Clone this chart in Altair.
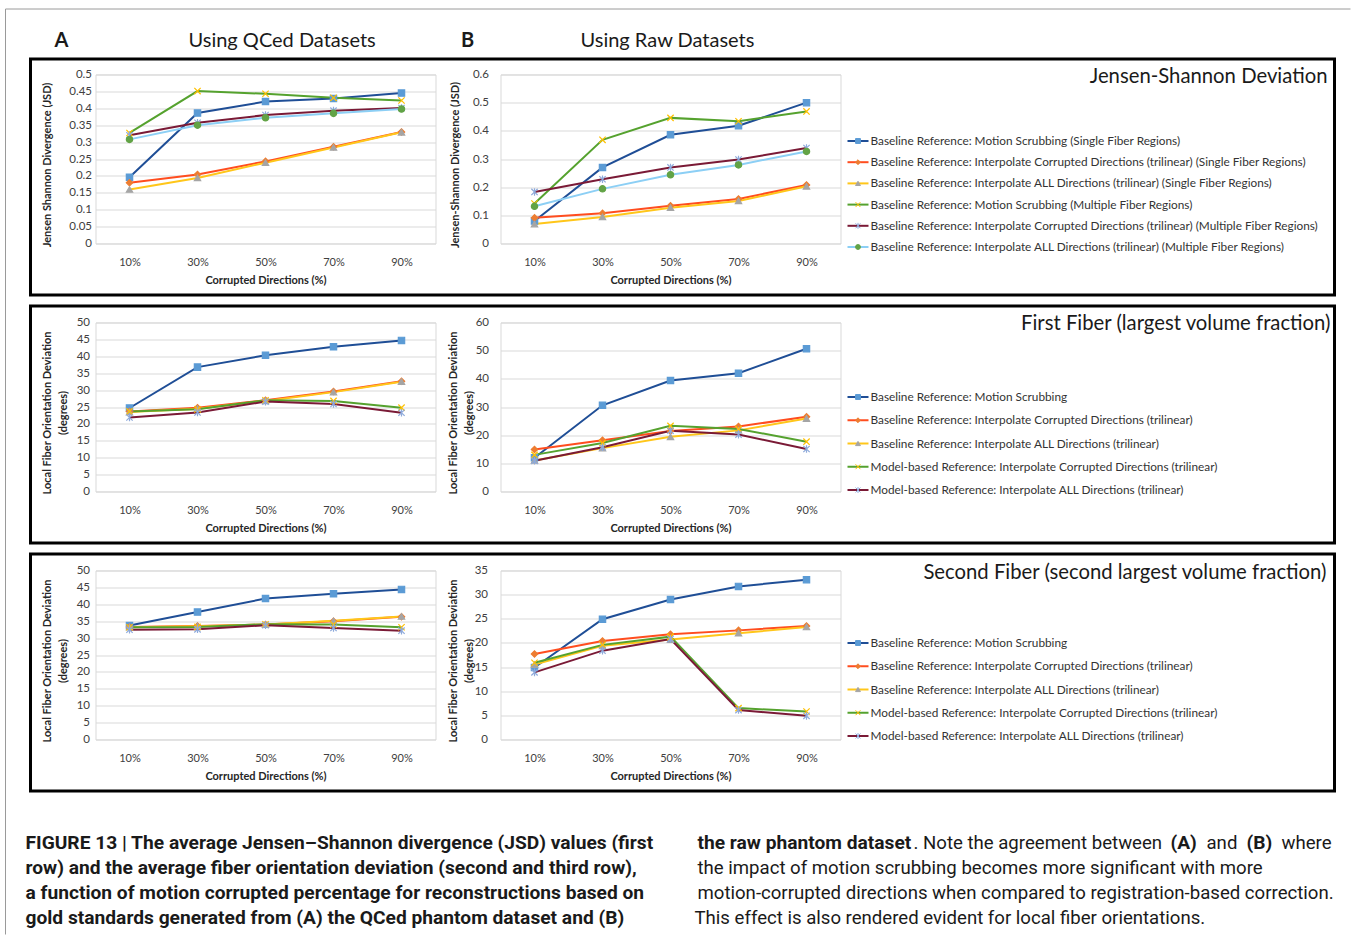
import altair as alt
import pandas as pd

# ---------------- data ----------------
PCTS = ["10%", "30%", "50%", "70%", "90%"]

SERIES_JSD = [
    "Baseline Reference: Motion Scrubbing (Single Fiber Regions)",
    "Baseline Reference: Interpolate Corrupted Directions (trilinear) (Single Fiber Regions)",
    "Baseline Reference: Interpolate ALL Directions (trilinear) (Single Fiber Regions)",
    "Baseline Reference: Motion Scrubbing (Multiple Fiber Regions)",
    "Baseline Reference: Interpolate Corrupted Directions (trilinear) (Multiple Fiber Regions)",
    "Baseline Reference: Interpolate ALL Directions (trilinear) (Multiple Fiber Regions)",
]
SERIES_FIB = [
    "Baseline Reference: Motion Scrubbing",
    "Baseline Reference: Interpolate Corrupted Directions (trilinear)",
    "Baseline Reference: Interpolate ALL Directions (trilinear)",
    "Model-based Reference: Interpolate Corrupted Directions (trilinear)",
    "Model-based Reference: Interpolate ALL Directions (trilinear)",
]

JSD_QCED = [
    [0.196, 0.386, 0.420, 0.429, 0.445],
    [0.180, 0.204, 0.243, 0.286, 0.330],
    [0.160, 0.194, 0.239, 0.284, 0.329],
    [0.327, 0.451, 0.443, 0.431, 0.423],
    [0.320, 0.357, 0.380, 0.393, 0.401],
    [0.308, 0.350, 0.372, 0.385, 0.398],
]
JSD_RAW = [
    [0.080, 0.270, 0.386, 0.418, 0.500],
    [0.091, 0.107, 0.134, 0.158, 0.208],
    [0.069, 0.094, 0.127, 0.151, 0.203],
    [0.142, 0.368, 0.446, 0.434, 0.469],
    [0.183, 0.228, 0.270, 0.298, 0.339],
    [0.132, 0.194, 0.244, 0.279, 0.327],
]
FIRST_QCED = [
    [24.7, 36.8, 40.3, 42.8, 44.7],
    [23.7, 24.8, 27.0, 29.6, 32.6],
    [23.5, 24.5, 26.8, 29.4, 32.5],
    [23.7, 24.3, 27.0, 26.8, 24.8],
    [21.9, 23.4, 26.6, 25.9, 23.3],
]
FIRST_RAW = [
    [12.0, 30.6, 39.4, 42.0, 50.7],
    [14.9, 18.2, 21.5, 23.1, 26.5],
    [11.0, 15.4, 19.4, 21.7, 25.9],
    [13.0, 17.2, 23.3, 22.2, 17.7],
    [10.9, 15.7, 21.6, 20.2, 15.1],
]
SECOND_QCED = [
    [33.7, 37.7, 41.7, 43.1, 44.4],
    [33.3, 33.6, 34.0, 35.0, 36.3],
    [33.2, 33.5, 34.0, 35.1, 36.4],
    [33.2, 33.3, 34.1, 34.0, 33.2],
    [32.5, 32.6, 33.8, 33.0, 32.2],
]
SECOND_RAW = [
    [14.9, 24.9, 29.0, 31.7, 33.1],
    [17.7, 20.4, 21.8, 22.6, 23.5],
    [15.5, 19.4, 20.7, 22.0, 23.3],
    [15.9, 19.6, 21.3, 6.5, 5.8],
    [13.9, 18.4, 20.8, 6.1, 4.9],
]

ROW_TITLES = [
    "Jensen-Shannon Deviation",
    "First Fiber (largest volume fraction)",
    "Second Fiber (second largest volume fraction)",
]
CAPTION_LEFT = [
    "FIGURE 13 | The average Jensen\u2013Shannon divergence (JSD) values (first",
    "row) and the average fiber orientation deviation (second and third row),",
    "a function of motion corrupted percentage for reconstructions based on",
    "gold standards generated from (A) the QCed phantom dataset and (B)",
]
CAPTION_RIGHT = [
    "the impact of motion scrubbing becomes more significant with more",
    "motion-corrupted directions when compared to registration-based correction.",
    "This effect is also rendered evident for local fiber orientations.",
]

# ---------------- styles ----------------
LINE_COLS = ["#1f4e96", "#ff4d1f", "#ffc61a", "#55a22e", "#7a1a36", "#8ccff5"]
MARK_COLS = ["#5b9bd5", "#ed7d31", "#a5a5a5", "#ffc000", "#8eaadb", "#62a346"]
X_PATH = "M-1,-1L1,1M-1,1L1,-1"
AST_PATH = "M-1,-1L1,1M-1,1L1,-1M0,-1.2L0,1.2"
SHAPES = ["square", "diamond", "triangle-up", X_PATH, AST_PATH, "circle"]
TXT = "#404040"
TTL = "#262626"
DARK = "#1a1a1a"
W_A, W_B, W_L, H = 340, 340, 430, 169
DUMMY = pd.DataFrame({"d": [0]})
CAP_B, CAP_R = 19.2, 18.6
ROW_TITLE_SIZE = 20.3


def panel(names, values, ymax, step, fmt, ytitle, title_x, label_pad):
    n = len(names)
    df = pd.DataFrame(
        [{"series": s, "pct": p, "v": v}
         for s, vals in zip(names, values) for p, v in zip(PCTS, vals)]
    )
    ticks = [round(i * step, 6) for i in range(int(round(ymax / step)) + 1)]
    x = alt.X(
        "pct:O",
        scale=alt.Scale(type="point", padding=0.5, domain=PCTS),
        axis=alt.Axis(title="Corrupted Directions (%)", labelAngle=0, labelPadding=13,
                      labelFontSize=11, labelColor=TXT, domain=False, ticks=False,
                      grid=False, titleFontSize=11, titleFontWeight="bold",
                      titleColor=TTL, titleY=30.5, titleBaseline="top"),
    )
    y = alt.Y(
        "v:Q",
        scale=alt.Scale(domain=[0, ymax], nice=False, zero=True),
        axis=alt.Axis(values=ticks, format=fmt, title=ytitle, labelPadding=label_pad,
                      labelFontSize=11.5, labelColor=TXT, domain=False, ticks=False,
                      grid=True, gridColor="#d9d9d9", titleFontSize=11,
                      titleFontWeight="bold", titleColor=TTL, titleX=title_x,
                      titleY=90, titleAngle=270, titleBaseline="middle",
                      titleAlign="center", titleLineHeight=16),
    )
    line = alt.Chart(df).mark_line(strokeWidth=2).encode(
        x=x, y=y,
        color=alt.Color("series:N", scale=alt.Scale(domain=names, range=LINE_COLS[:n]), legend=None),
    )
    pts = alt.Chart(df).mark_point(filled=True, size=40, strokeWidth=1.2, opacity=1).encode(
        x=x, y=y,
        shape=alt.Shape("series:N", scale=alt.Scale(domain=names, range=SHAPES[:n]), legend=None),
        fill=alt.Fill("series:N", scale=alt.Scale(domain=names, range=MARK_COLS[:n]), legend=None),
        stroke=alt.Stroke("series:N", scale=alt.Scale(domain=names, range=MARK_COLS[:n]), legend=None),
    )
    return alt.layer(line, pts).properties(width=W_A, height=H)


def text(s, x, y, size, weight="normal", align="left", baseline="middle",
         font="Lato", color=DARK):
    return alt.Chart(DUMMY).mark_text(
        text=s, align=align, baseline=baseline, fontSize=size, fontWeight=weight,
        font=font, color=color,
    ).encode(x=alt.value(x), y=alt.value(y))


def hrule(x1, x2, y, color, width):
    return alt.Chart(DUMMY).mark_rule(color=color, strokeWidth=width).encode(
        x=alt.value(x1), x2=alt.value(x2), y=alt.value(y))


def vrule(x, y1, y2, color, width):
    return alt.Chart(DUMMY).mark_rule(color=color, strokeWidth=width).encode(
        x=alt.value(x), y=alt.value(y1), y2=alt.value(y2))


def legend_unit(names, y_range, title, title_x, title_y, box_top, extras):
    n = len(names)
    ldf = pd.DataFrame({"series": names})
    y = alt.Y("series:N", scale=alt.Scale(type="point", domain=names, range=y_range, padding=0),
              axis=None)
    box = alt.Chart(DUMMY).mark_rect(fillOpacity=0, stroke="black", strokeWidth=3).encode(
        x=alt.value(-875), x2=alt.value(429), y=alt.value(box_top), y2=alt.value(220.5))
    rule = alt.Chart(ldf).mark_rule(strokeWidth=2).encode(
        x=alt.value(-58), x2=alt.value(-37), y=y,
        color=alt.Color("series:N", scale=alt.Scale(domain=names, range=LINE_COLS[:n]), legend=None),
    )
    pt = alt.Chart(ldf).mark_point(filled=True, size=24, strokeWidth=1, opacity=1).encode(
        x=alt.value(-47.5), y=y,
        shape=alt.Shape("series:N", scale=alt.Scale(domain=names, range=SHAPES[:n]), legend=None),
        fill=alt.Fill("series:N", scale=alt.Scale(domain=names, range=MARK_COLS[:n]), legend=None),
        stroke=alt.Stroke("series:N", scale=alt.Scale(domain=names, range=MARK_COLS[:n]), legend=None),
    )
    lab = alt.Chart(ldf).mark_text(align="left", baseline="middle", fontSize=11.8,
                                   color="#333333").encode(
        x=alt.value(-35), y=y, text="series:N")
    ttl = text(title, title_x, title_y, ROW_TITLE_SIZE, align="right", baseline="alphabetic")
    return alt.layer(box, rule, pt, lab, ttl, *extras).properties(
        width=W_L, height=H, view=alt.ViewBackground(stroke="transparent"))


# ---------- decorations (relative to each legend column origin) ----------
header = [
    hrule(-900, 445, -65.5, "#9a9a9a", 1),
    vrule(-900, -65.5, 860, "#9a9a9a", 1),
    text("A", -844, -33.5, 20, weight="bold", align="center"),
    text("Using QCed Datasets", -717, -33.5, 20),
    text("B", -438, -33.5, 20, weight="bold", align="center"),
    text("Using Raw Datasets", -325, -33.5, 20),
]
cap_y = [272.5, 297.5, 322.5, 347.5]
caption = [text(s, -880, yy, CAP_B, weight="bold", font="Roboto") for s, yy in zip(CAPTION_LEFT, cap_y)]
caption += [
    text("the raw phantom dataset", -208, cap_y[0], CAP_B, weight="bold", font="Roboto"),
    text(". Note the agreement between", 8, cap_y[0], CAP_R, font="Roboto"),
    text("(A)", 265, cap_y[0], CAP_B, weight="bold", font="Roboto"),
    text("and", 301, cap_y[0], CAP_R, font="Roboto"),
    text("(B)", 341, cap_y[0], CAP_B, weight="bold", font="Roboto"),
    text("where", 376, cap_y[0], CAP_R, font="Roboto"),
    text(CAPTION_RIGHT[0], -208, cap_y[1], CAP_R, font="Roboto"),
    text(CAPTION_RIGHT[1], -208, cap_y[2], CAP_R, font="Roboto"),
    text(CAPTION_RIGHT[2], -211, cap_y[3], CAP_R, font="Roboto"),
]

A1 = panel(SERIES_JSD, JSD_QCED, 0.5, 0.05, ".2~f", "Jensen Shannon Divergence (JSD)", -48, 4)
B1 = panel(SERIES_JSD, JSD_RAW, 0.6, 0.1, ".1~f", "Jensen-Shannon Divergence (JSD)", -45, 12)
L1 = legend_unit(SERIES_JSD, [66.5, 172.5], ROW_TITLES[0], 422, 8.5, -15.5, header)

FIB_TITLE = ["Local Fiber Orientation Deviation", "(degrees)"]
A2 = panel(SERIES_FIB, FIRST_QCED, 50, 5, "d", FIB_TITLE, -47.7, 6)
B2 = panel(SERIES_FIB, FIRST_RAW, 60, 10, "d", FIB_TITLE, -46.7, 12)
L2 = legend_unit(SERIES_FIB, [74.5, 167.5], ROW_TITLES[1], 425, 7.5, -16.5, [])

A3 = panel(SERIES_FIB, SECOND_QCED, 50, 5, "d", FIB_TITLE, -47.7, 6)
B3 = panel(SERIES_FIB, SECOND_RAW, 35, 5, "d", FIB_TITLE, -46.7, 13)
L3 = legend_unit(SERIES_FIB, [72.5, 165.5], ROW_TITLES[2], 421, 8.8, -16.5, caption)

chart = alt.concat(
    A1, B1, L1, A2, B2, L2, A3, B3, L3,
    columns=3,
    spacing={"row": 79, "column": 65},
).properties(
    bounds="flush",
    align="each",
    padding={"left": 4.5, "top": 7.5, "right": 0, "bottom": 0},
).resolve_scale(
    color="independent", fill="independent", stroke="independent", shape="independent"
).configure(
    font="Lato", background="white"
).configure_view(
    stroke="#d9d9d9", strokeWidth=1
)

chart.save("out.html", embed_options={"renderer": "svg", "actions": False})
